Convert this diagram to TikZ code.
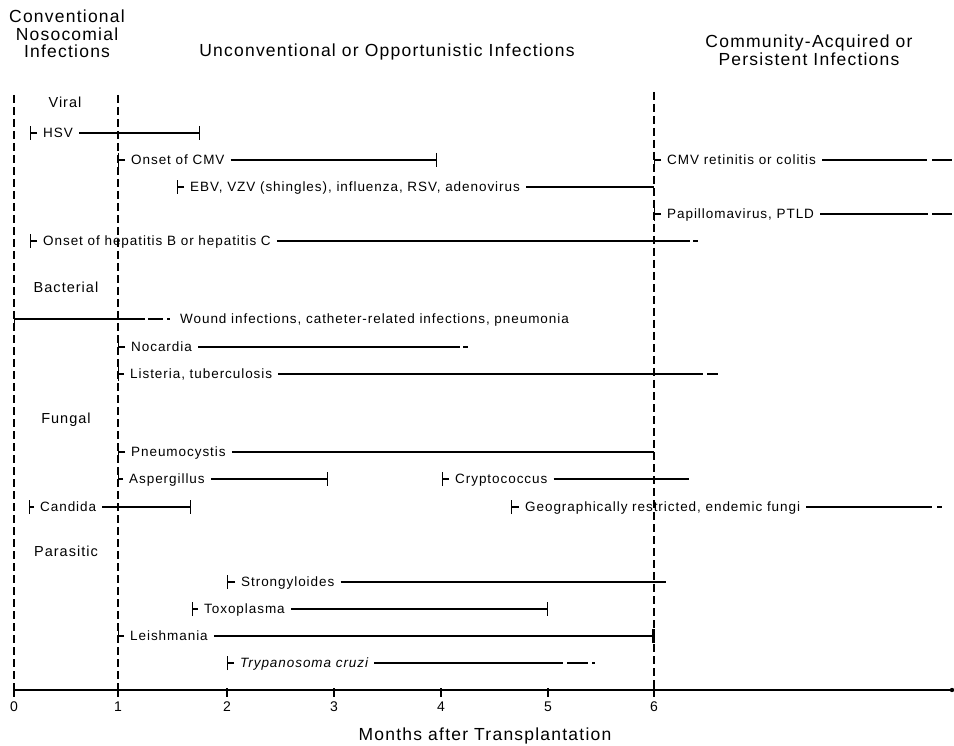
\documentclass[tikz,border=0pt]{standalone}
\usepackage{fontspec}
\setmainfont{Liberation Sans}[LetterSpace=7]
\usetikzlibrary{arrows.meta}
\begin{document}
\begin{tikzpicture}[x=1pt,y=-1pt,
  bar/.style={line width=1.3pt},
  st/.style={-{Bar[width=14pt]}},
  thickend/.style={-{Bar[width=14pt,line width=2.8pt]}},
  vdash/.style={line width=1.2pt, dash pattern=on 8pt off 4pt},
  lbl/.style={anchor=west, inner xsep=6pt, inner ysep=0pt, text height=9.5pt, text depth=0pt, font=\fontsize{13.5}{15}\selectfont},
  cat/.style={inner sep=0pt, font=\fontsize{14.5}{17}\selectfont},
  head/.style={inner sep=0pt, align=center, font=\fontsize{17.5}{17.5}\selectfont},
  num/.style={inner sep=0pt, font=\fontsize{14}{16}\selectfont}
]
\useasboundingbox (0,0) rectangle (954,746);

% headers
\node[head] (h1) at (67,34) {Conventional\\Nosocomial\\Infections};
\node[head] (h2) at (387,52) {Unconventional or Opportunistic Infections};
\node[head] (h3) at (809,50) {Community-Acquired or\\Persistent Infections};

% dashed verticals
\coordinate (v0t) at (14,95);  \coordinate (v0b) at (14,690);
\coordinate (v1t) at (118,95); \coordinate (v1b) at (118,690);
\coordinate (v6t) at (654,92); \coordinate (v6b) at (654,690);
\draw[vdash] (v0t) -- (v0b);
\draw[vdash] (v1t) -- (v1b);
\draw[vdash] (v6t) -- (v6b);

% category labels
\node[cat] (viral) at (65,102) {Viral};
\node[cat] (bact) at (66,287) {Bacterial};
\node[cat] (fung) at (66,420) {Fungal};
\node[cat] (para) at (66,551) {Parasitic};

% ---- Viral ----
\coordinate (hsvS) at (30,133); \node[lbl] (hsv) at (37,133) {HSV}; \coordinate (hsvE) at (200,133);
\draw[bar,st] (hsv.west) -- (hsvS); \draw[bar,st] (hsv.east) -- (hsvE);

\coordinate (cmvS) at (118,160); \node[lbl] (cmv) at (125,160) {Onset of CMV}; \coordinate (cmvE) at (437,160);
\draw[bar,st] (cmv.west) -- (cmvS); \draw[bar,st] (cmv.east) -- (cmvE);

\coordinate (ebvS) at (177,187); \node[lbl] (ebv) at (184,187) {EBV, VZV (shingles), influenza, RSV, adenovirus}; \coordinate (ebvE) at (654,187);
\draw[bar,st] (ebv.west) -- (ebvS); \draw[bar] (ebv.east) -- (ebvE);

\coordinate (cmrS) at (654,160); \node[lbl] (cmr) at (661,160) {CMV retinitis or colitis};
\coordinate (cmrA) at (927,160); \coordinate (cmrB) at (932,160); \coordinate (cmrE) at (952,160);
\draw[bar,st] (cmr.west) -- (cmrS); \draw[bar] (cmr.east) -- (cmrA); \draw[bar] (cmrB) -- (cmrE);

\coordinate (papS) at (654,214); \node[lbl] (pap) at (661,214) {Papillomavirus, PTLD};
\coordinate (papA) at (928,214); \coordinate (papB) at (932,214); \coordinate (papE) at (952,214);
\draw[bar,st] (pap.west) -- (papS); \draw[bar] (pap.east) -- (papA); \draw[bar] (papB) -- (papE);

\coordinate (hepS) at (30,241); \node[lbl] (hep) at (37,241) {Onset of hepatitis B or hepatitis C};
\coordinate (hepA) at (690,241); \coordinate (hepB) at (693,241); \coordinate (hepE) at (698,241);
\draw[bar,st] (hep.west) -- (hepS); \draw[bar] (hep.east) -- (hepA); \draw[bar] (hepB) -- (hepE);

% ---- Bacterial ----
\coordinate (wndS) at (14,319); \coordinate (wndA) at (145,319); \coordinate (wndB) at (148,319);
\coordinate (wndC) at (163,319); \coordinate (wndD) at (167,319); \coordinate (wndF) at (170,319);
\node[lbl] (wnd) at (174,319) {Wound infections, catheter-related infections, pneumonia};
\draw[bar,st] (wndA) -- (wndS); \draw[bar] (wndB) -- (wndC); \draw[bar] (wndD) -- (wndF);

\coordinate (nocS) at (118,347); \node[lbl] (noc) at (125,347) {Nocardia};
\coordinate (nocA) at (460,347); \coordinate (nocB) at (463,347); \coordinate (nocE) at (468,347);
\draw[bar,st] (noc.west) -- (nocS); \draw[bar] (noc.east) -- (nocA); \draw[bar] (nocB) -- (nocE);

\coordinate (lisS) at (118,374); \node[lbl] (lis) at (124,374) {Listeria, tuberculosis};
\coordinate (lisA) at (703,374); \coordinate (lisB) at (707,374); \coordinate (lisE) at (718,374);
\draw[bar,st] (lis.west) -- (lisS); \draw[bar] (lis.east) -- (lisA); \draw[bar] (lisB) -- (lisE);

% ---- Fungal ----
\coordinate (pneS) at (118,452); \node[lbl] (pne) at (125,452) {Pneumocystis}; \coordinate (pneE) at (654,452);
\draw[bar,st] (pne.west) -- (pneS); \draw[bar] (pne.east) -- (pneE);

\coordinate (aspS) at (118,479); \node[lbl] (asp) at (123,479) {Aspergillus}; \coordinate (aspE) at (328,479);
\draw[bar,st] (asp.west) -- (aspS); \draw[bar,st] (asp.east) -- (aspE);

\coordinate (cryS) at (442,479); \node[lbl] (cry) at (449,479) {Cryptococcus}; \coordinate (cryE) at (689,479);
\draw[bar,st] (cry.west) -- (cryS); \draw[bar] (cry.east) -- (cryE);

\coordinate (canS) at (29,507); \node[lbl] (can) at (34,507) {Candida}; \coordinate (canE) at (191,507);
\draw[bar,st] (can.west) -- (canS); \draw[bar,st] (can.east) -- (canE);

\coordinate (geoS) at (511,507); \node[lbl] (geo) at (519,507) {Geographically restricted, endemic fungi};
\coordinate (geoA) at (932,507); \coordinate (geoB) at (937,507); \coordinate (geoE) at (942,507);
\draw[bar,st] (geo.west) -- (geoS); \draw[bar] (geo.east) -- (geoA); \draw[bar] (geoB) -- (geoE);

% ---- Parasitic ----
\coordinate (strS) at (227,582); \node[lbl] (str) at (235,582) {Strongyloides}; \coordinate (strE) at (666,582);
\draw[bar,st] (str.west) -- (strS); \draw[bar] (str.east) -- (strE);

\coordinate (toxS) at (192,609); \node[lbl] (tox) at (198,609) {Toxoplasma}; \coordinate (toxE) at (548,609);
\draw[bar,st] (tox.west) -- (toxS); \draw[bar,st] (tox.east) -- (toxE);

\coordinate (leiS) at (118,636); \node[lbl] (lei) at (124,636) {Leishmania}; \coordinate (leiE) at (655,636);
\draw[bar,st] (lei.west) -- (leiS); \draw[bar,thickend] (lei.east) -- (leiE);

\coordinate (tryS) at (227,663); \node[lbl] (try) at (234,663) {\itshape Trypanosoma cruzi};
\coordinate (tryA) at (563,663); \coordinate (tryB) at (567,663); \coordinate (tryC) at (588,663);
\coordinate (tryD) at (592,663); \coordinate (tryF) at (595,663);
\draw[bar,st] (try.west) -- (tryS); \draw[bar] (try.east) -- (tryA); \draw[bar] (tryB) -- (tryC); \draw[bar] (tryD) -- (tryF);

% ---- axis ----
\coordinate (ax0) at (14,690); \coordinate (axE) at (952,690);
\draw[bar] (ax0) -- (axE);
\fill (axE) circle (2.2pt);
\foreach \n/\x in {0/14,1/118,2/227,3/334,4/441,5/548,6/654}{
  \coordinate (t\n) at (\x,690);
  \draw[bar] (t\n) ++(0,-2) -- ++(0,9);
  \node[num] (n\n) at (\x,707) {\n};
}
\node[head] (axt) at (485,736) {Months after Transplantation};
\end{tikzpicture}
\end{document}
